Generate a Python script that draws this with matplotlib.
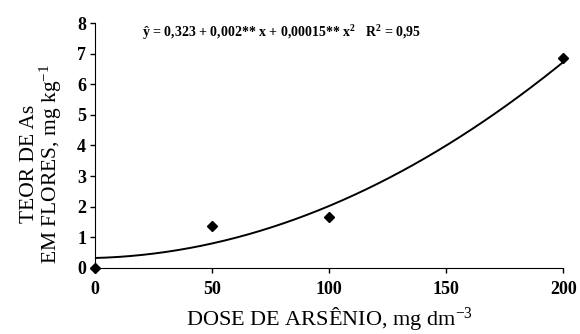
import matplotlib
matplotlib.use("Agg")
import matplotlib.pyplot as plt
import numpy as np

# observed points
dose = [0, 50, 100, 200]
teor = [0.0, 1.38, 1.67, 6.85]

# regression coefficients shown on the chart
coef_a, coef_b, coef_c = 0.323, 0.002, 0.00015

xticks = [0, 50, 100, 150, 200]
yticks = [0, 1, 2, 3, 4, 5, 6, 7, 8]

plt.rcParams['font.family'] = 'Liberation Serif'
plt.rcParams['mathtext.fontset'] = 'custom'
plt.rcParams['mathtext.rm'] = 'Liberation Serif'
plt.rcParams['mathtext.it'] = 'Liberation Serif:italic'
plt.rcParams['mathtext.bf'] = 'Liberation Serif:bold'

fig = plt.figure(figsize=(5.8, 3.34), dpi=100)
ax = fig.add_axes([0.164, 0.198, 0.807, 0.733])

xs = np.linspace(0, 200, 200)
ax.plot(xs, coef_a + coef_b * xs + coef_c * xs ** 2, color='black', lw=1.4)
ax.plot(dose, teor, linestyle='none', marker='D', color='black', ms=4.8, clip_on=False)

ax.set_xlim(0, 200)
ax.set_ylim(0, 8)
ax.set_xticks(xticks)
ax.set_yticks(yticks)
ax.spines['top'].set_visible(False)
ax.spines['right'].set_visible(False)
ax.tick_params(direction='out', length=3.5, width=1, labelsize=13)
for lbl in ax.get_xticklabels() + ax.get_yticklabels():
    lbl.set_fontweight('bold')
ax.tick_params(axis='x', pad=6)
ax.tick_params(axis='y', pad=3)

ax.set_xlabel('DOSE DE ARSÊNIO, mg dm$^{\\mathrm{-3}}$', fontsize=16, labelpad=5)
ax.set_ylabel('TEOR DE As\nEM FLORES, mg kg$^{\\mathrm{-1}}$', fontsize=15.5,
              linespacing=0.95)
ax.yaxis.set_label_coords(-0.067, 0.424)

ax.text(0.10, 0.96, 'ŷ = 0,323 + 0,002** x + 0,00015** x$^\\mathbf{2}$   R$^\\mathbf{2}$ = 0,95',
        transform=ax.transAxes, fontsize=10, fontweight='bold', va='center')

fig.savefig('out.png', dpi=100)
